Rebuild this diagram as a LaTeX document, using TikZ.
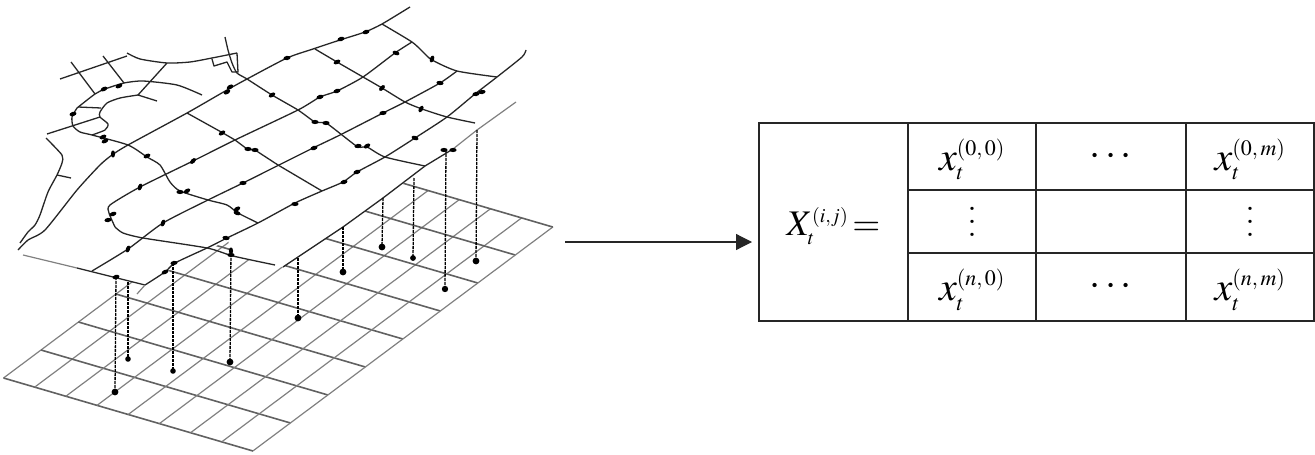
\documentclass[tikz,border=0pt]{standalone}
\usepackage{mathptmx}
\usetikzlibrary{arrows.meta}
\DeclareMathSizes{40}{40}{22}{16}
\DeclareMathSizes{36}{36}{20}{14}
\newcommand{\tallvdots}{\vbox{\baselineskip=13pt \lineskiplimit=0pt \hbox{.}\hbox{.}\hbox{.}}}
\tikzset{
    gridlong/.style={draw=black!62,line width=1.6pt},
    gridcross/.style={draw=black!50,line width=1.2pt},
    road/.style={draw=black!85,line width=1.3pt,line join=round},
    faderoad/.style={draw=black!50,line width=1.2pt},
    pin/.style={draw=black,line width=1.3pt,dash pattern=on 3pt off 1pt},
    cell/.style={draw=black!85,line width=1.1pt,minimum width=#1,inner sep=0pt},
    cell/.default=128pt,
    dotstext/.style={font=\fontsize{40}{42}\selectfont},
    mathtext/.style={dotstext,text height=34pt,text depth=7pt},
    lefttext/.style={font=\fontsize{36}{38}\selectfont,text height=34pt,text depth=7pt}
}
\begin{document}
\begin{tikzpicture}[x=1pt,y=-1pt]
    \useasboundingbox (0,0) rectangle (1315,455);

    \foreach \i in {0,...,8} {
        \draw[gridcross] ({3.5+\i*31.2},{378+\i*9.1}) -- ({303.5+\i*31.2},{154+\i*9.1});
        \draw[gridlong] ({3.5+\i*37.46},{378-\i*28}) -- ({253+\i*37.46},{451-\i*28});
    }
    \fill[white] (15,253) -- (90,271) -- (145,285) -- (165,272) -- (228,240) -- (232,255) -- (275,265) -- (283,267)
        -- (343,227) -- (516,102) -- (560,0) -- (0,0) -- cycle;

    \draw[road] plot[smooth,tension=.4] coordinates {(60,79) (127,56)};
    \draw[road] plot[smooth,tension=.4] coordinates {(127,53) (140,59) (167,63) (190,62) (212,58) (237,53)};
    \draw[road] (212,59) -- (214,66) -- (227,62) -- (232,72) -- (238,72) -- (237,53);
    \draw[road] plot[smooth,tension=.4] coordinates {(225,37) (228,50) (232,63) (237,73) (247,79) (272,95) (298,110) (315,122) (326,123) (342,135) (358,147) (367,147) (385,157) (425,166)};
    \draw[road] (71,62) -- (95,94);
    \draw[road] (103,56) -- (124,83);
    \draw[road] plot[smooth,tension=.4] coordinates {(77,108) (95,94) (105,89) (124,83) (143,81) (177,85) (202,95)};
    \draw[road] (167,63) -- (138,95) -- (157,101);
    \draw[road] plot[smooth,tension=.4] coordinates {(138,95) (120,98) (107,103) (100,112) (100,117) (108,124) (105,130) (92,135)};
    \draw[road] (78,107) -- (101,108);
    \draw[road] (47,134) -- (100,117);
    \draw[road] plot[smooth,tension=.4] coordinates {(77,108) (72,117) (73,126) (80,132) (92,135) (128,145) (147,157) (160,165) (170,182) (180,191) (208,200) (227,205) (238,213) (258,223)};
    \draw[road] (187,113) -- (223,133) -- (235,140) -- (247,149) -- (255,150) -- (278,165) -- (322,191);
    \draw[road] plot[smooth,tension=.4] coordinates {(20,243) (28,232) (35,225) (40,215) (48,192) (57,175) (62,163) (62,155) (46,138)};
    \draw[road] (57,175) -- (71,178);
    \draw[road] plot[smooth,tension=.4] coordinates {(18,250) (28,240) (45,230) (77,190) (100,165) (112,155) (128,145) (187,113) (227,90) (247,79) (287,58) (313,49) (340,40) (365,32) (382,24) (410,7)};
    \draw[road] plot[smooth,tension=.4] coordinates {(115,227) (109,213) (110,205) (140,187) (193,161) (235,140) (298,110) (320,97) (337,91) (363,77) (395,53) (412,42)};
    \draw[road] plot[smooth,tension=.4] coordinates {(382,24) (412,42) (423,52) (432,60) (457,71) (497,77)};
    \draw[road] plot[smooth,tension=.4] coordinates {(315,49) (337,62) (363,77) (382,88) (405,102) (422,109) (447,117) (475,123)};
    \draw[road] plot[smooth,tension=.4] coordinates {(92,271) (128,249) (163,223) (208,200) (243,183) (279,165) (313,148) (340,135) (383,113) (405,102) (440,83) (457,71)};
    \draw[road] plot[smooth,tension=.4] coordinates {(145,285) (165,272) (175,263) (207,248) (227,238) (258,223) (295,203) (322,191) (343,182) (357,172) (385,157) (415,138) (447,117) (475,94) (497,77) (522,57) (526,50)};
    \draw[road] plot[smooth,tension=.4] coordinates {(115,227) (123,233) (143,238) (207,248) (233,256) (275,265)};
    \draw[faderoad] (23,255) -- (77,268);
    \draw[road] (77,268) -- (145,285);
    \draw[faderoad] (145,285) -- (137,294);
    \draw[road] (283,267) -- (343,227) -- (383,198) -- (425,166) -- (453,149);
    \draw[faderoad] (453,149) -- (477,130) -- (516,102);

    \foreach \x/\y/\a in {287/58/10, 230/87/30, 227/92/30, 272/95/30, 222/133/30, 248/149/0, 255/150/0, 193/161/45,
        147/156/25, 113/154/90, 140/187/70, 243/183/0, 180/192/0, 187/191/30, 237/209/30, 237/213/-20, 295/204/0,
        163/223/70, 113/214/20, 108/220/10, 73/114/15, 104/89/25, 119/86/25, 103/137/25, 105/141/25,
        341/39/15, 366/32/15, 337/62/25, 396/53/-20, 432/59/70, 320/97/15, 337/91/15, 382/88/45, 440/83/-10,
        476/94/10, 482/92/10, 383/113/5, 421/109/60, 315/122/0, 326/123/0, 314/148/15, 358/146/10, 367/146/30,
        415/138/-20, 357/172/15, 344/182/15, 444/150/0, 453/150/0, 128/249/70, 226/238/-10, 116/277/15,
        165/272/25, 174/263/10, 231/255/0, 231/251/90} {
        \fill[black] (\x,\y) ellipse [x radius=3.6,y radius=2.1,rotate=\a];
    }

    \foreach \n/\xa/\ya/\xb/\yb/\r in {1/116/277/115/392/3.4, 2/128/282/128/359/2.8, 3/173/263/173/371/2.8, 4/231/250/230/362/3.4,
        5/298/258/298/318/3.4, 6/343/227/343/272/3.4, 7/383/198/382/247/3.4, 8/414/178/413/258/2.9, 9/446/150/445/289/3.2, 10/477/130/476/261/3.4} {
        \coordinate (pintop\n) at (\xa,\ya);
        \coordinate (pinbase\n) at (\xb,\yb);
        \draw[pin] (pintop\n) -- (pinbase\n);
        \fill[black] (pinbase\n) circle [radius=\r];
    }

    \node[cell=149pt,minimum height=198pt,lefttext] (matleft) at (833.5,222) {$X_t^{(i,j)}\!=$};
    \node[cell=128pt,minimum height=67pt,mathtext] (m00) at (972,156.5) {$x_t^{(0,\,0)}$};
    \node[cell=150pt,minimum height=67pt,dotstext] (m01) at (1111,156.5) {$\cdots$};
    \node[cell=128pt,minimum height=67pt,mathtext] (m02) at (1250,156.5) {$x_t^{(0,\,m)}$};
    \node[cell=128pt,minimum height=63pt,dotstext] (m10) at (972,221.5) {\tallvdots};
    \node[cell=150pt,minimum height=63pt] (m11) at (1111,221.5) {};
    \node[cell=128pt,minimum height=63pt,dotstext] (m12) at (1250,221.5) {\tallvdots};
    \node[cell=128pt,minimum height=68pt,mathtext] (m20) at (972,287) {$x_t^{(n,\,0)}$};
    \node[cell=150pt,minimum height=68pt,dotstext] (m21) at (1111,287) {$\cdots$};
    \node[cell=128pt,minimum height=68pt,mathtext] (m22) at (1250,287) {$x_t^{(n,\,m)}$};

    \coordinate (arrowstart) at (565,242);
    \coordinate (arrowend) at (752,242);
    \draw[-{Triangle[length=16pt,width=16pt]},line width=1.2pt,black!85] (arrowstart) -- (arrowend);
\end{tikzpicture}
\end{document}
